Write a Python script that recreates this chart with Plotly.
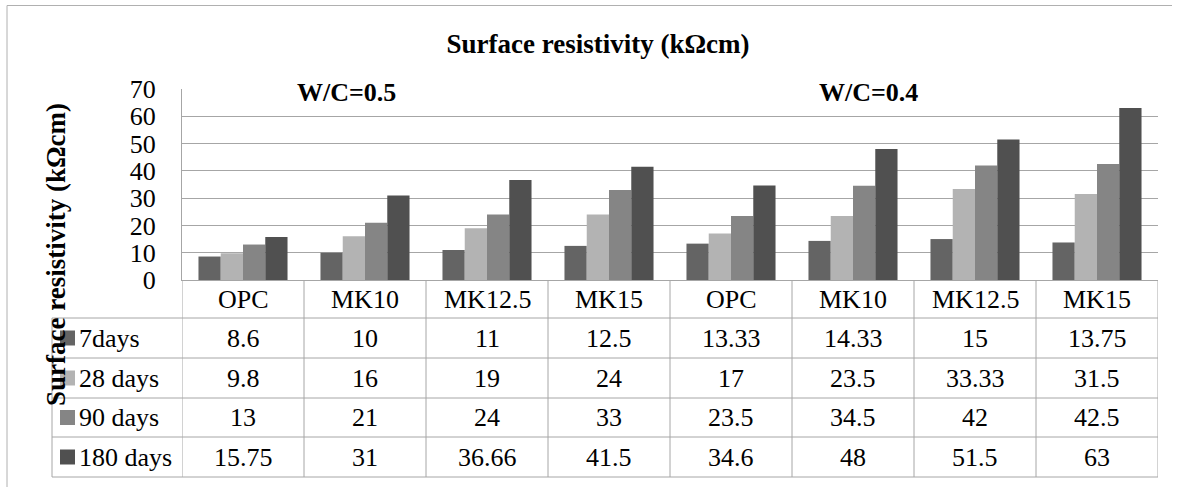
import plotly.graph_objects as go

categories = ["OPC", "MK10", "MK12.5", "MK15", "OPC", "MK10", "MK12.5", "MK15"]
series_names = ["7days", "28 days", "90 days", "180 days"]
days7 = [8.6, 10, 11, 12.5, 13.33, 14.33, 15, 13.75]
days28 = [9.8, 16, 19, 24, 17, 23.5, 33.33, 31.5]
days90 = [13, 21, 24, 33, 23.5, 34.5, 42, 42.5]
days180 = [15.75, 31, 36.66, 41.5, 34.6, 48, 51.5, 63]
group_labels = ["W/C=0.5", "W/C=0.4"]
y_ticks = [0, 10, 20, 30, 40, 50, 60, 70]

W, H = 1177, 487
FONT = "Liberation Serif"
GRID = "#a6a6a6"
colors = ["#646464", "#b3b3b3", "#858585", "#505050"]
series = [days7, days28, days90, days180]
x_pos = list(range(len(categories)))


def px(x):
    return x / W


def py(y):
    return 1 - y / H


fig = go.Figure()
for name, vals, col in zip(series_names, series, colors):
    fig.add_trace(go.Bar(
        x=x_pos, y=vals, name=name,
        marker=dict(color=col, line=dict(width=0)),
        showlegend=False,
    ))

# plot area and table geometry (pixels)
plot_left, plot_right, plot_top, plot_bottom = 182, 1158, 89, 280
table_left = 52
row_lines = [318, 358, 398, 437, 477]

shapes = []
# outer chart border (only top and left visible)
shapes.append(dict(type="line", xref="paper", yref="paper", x0=px(7), x1=px(1172),
                   y0=py(5.5), y1=py(5.5), line=dict(color="#b0b0b0", width=1)))
shapes.append(dict(type="line", xref="paper", yref="paper", x0=px(7), x1=px(7),
                   y0=py(5.5), y1=py(H + 5), line=dict(color="#b0b0b0", width=1)))
# horizontal table lines
for yl in row_lines:
    shapes.append(dict(type="line", xref="paper", yref="paper", x0=px(table_left), x1=px(plot_right),
                       y0=py(yl), y1=py(yl), line=dict(color=GRID, width=1)))
# vertical table lines at category boundaries
for i in range(len(categories) + 1):
    shapes.append(dict(type="line", xref="x", yref="paper", x0=i - 0.5, x1=i - 0.5,
                       y0=py(plot_bottom), y1=py(row_lines[-1]), line=dict(color=GRID, width=1)))
shapes.append(dict(type="line", xref="paper", yref="paper", x0=px(table_left), x1=px(table_left),
                   y0=py(row_lines[0]), y1=py(row_lines[-1]), line=dict(color=GRID, width=1)))

annotations = []
# header row: category names
for i, c in enumerate(categories):
    annotations.append(dict(x=i, xref="x", y=py((plot_bottom + row_lines[0]) / 2), yref="paper",
                            text=c, showarrow=False, font=dict(family=FONT, size=26, color="black"),
                            xanchor="center", yanchor="middle"))
# data rows with legend keys
for r, (name, vals, col) in enumerate(zip(series_names, series, colors)):
    yc_px = (row_lines[r] + row_lines[r + 1]) / 2
    yc = py(yc_px)
    shapes.append(dict(type="rect", xref="paper", yref="paper", x0=px(60), x1=px(75),
                       y0=py(yc_px - 7.5), y1=py(yc_px + 7.5), fillcolor=col, line=dict(width=0)))
    annotations.append(dict(x=px(77), xref="paper", y=yc, yref="paper", text=name,
                            showarrow=False, font=dict(family=FONT, size=26, color="black"),
                            xanchor="left", yanchor="middle"))
    for i, v in enumerate(vals):
        annotations.append(dict(x=i, xref="x", y=yc, yref="paper", text=f"{v:g}",
                                showarrow=False, font=dict(family=FONT, size=26, color="black"),
                                xanchor="center", yanchor="middle"))
# group labels
for lbl, xc in zip(group_labels, [346, 868]):
    annotations.append(dict(x=px(xc), xref="paper", y=py(92), yref="paper", text=f"<b>{lbl}</b>",
                            showarrow=False, font=dict(family=FONT, size=26, color="black"),
                            xanchor="center", yanchor="middle"))
# y axis title (overlaps the table as in the original)
annotations.append(dict(x=px(56), xref="paper", y=py(255), yref="paper",
                        text="<b>Surface resistivity (kΩcm)</b>", textangle=-90,
                        showarrow=False, font=dict(family=FONT, size=27, color="black"),
                        xanchor="center", yanchor="middle"))

fig.update_layout(
    width=W, height=H,
    margin=dict(l=0, r=0, t=0, b=0),
    paper_bgcolor="white", plot_bgcolor="white",
    barmode="group", bargap=0.27, bargroupgap=0,
    font=dict(family=FONT, size=26, color="black"),
    title=dict(text="<b>Surface resistivity (kΩcm)</b>", x=px(598), y=py(44),
               xanchor="center", yanchor="middle", font=dict(family=FONT, size=27, color="black")),
    xaxis=dict(domain=[px(plot_left), px(plot_right)], range=[-0.5, len(categories) - 0.5],
               showticklabels=False, showgrid=False, zeroline=False, ticks="",
               showline=True, linecolor=GRID, linewidth=1, automargin=False),
    yaxis=dict(domain=[py(plot_bottom), py(plot_top)], range=[0, 70], tickvals=y_ticks,
               showgrid=True, gridcolor=GRID, gridwidth=1, zeroline=False,
               showline=True, linecolor=GRID, linewidth=1, ticks="", automargin=False,
               ticklabelstandoff=20, tickfont=dict(family=FONT, size=26, color="black")),
    shapes=shapes,
    annotations=annotations,
)

# the page's default body margin would shift the fixed-size figure
fig.write_html("out.html", config={"displayModeBar": False},
               post_script="document.body.style.margin='0';document.body.style.overflow='hidden';")
